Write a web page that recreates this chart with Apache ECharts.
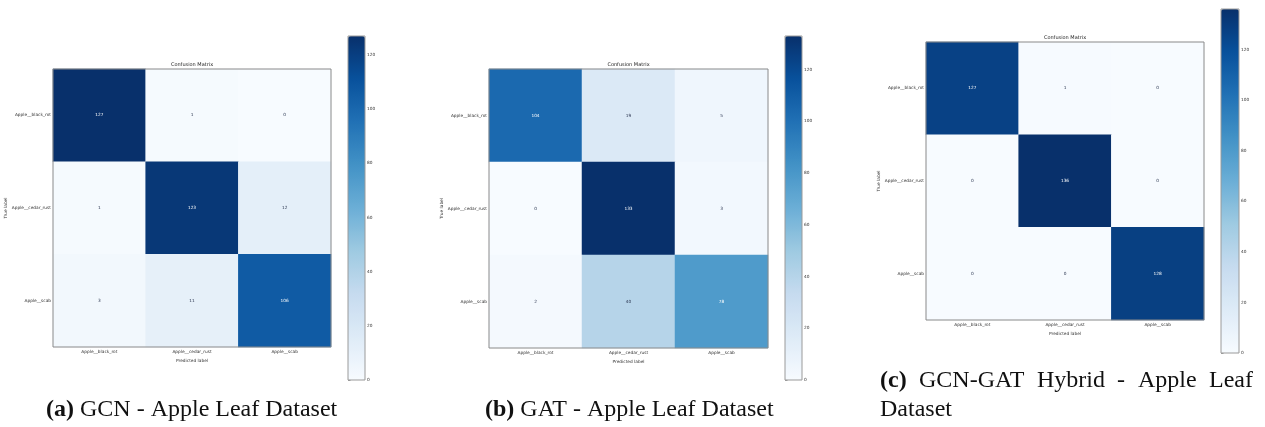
<!DOCTYPE html>
<html>
<head>
<meta charset="utf-8">
<script src="https://cdn.jsdelivr.net/npm/echarts@6/dist/echarts.min.js"></script>
<style>
html,body{margin:0;padding:0;background:#fff;}
#chart{width:1265px;height:427px;}
</style>
</head>
<body>
<div id="chart"></div>
<script>
// ---- data ----
const categories = ['Apple__black_rot', 'Apple__cedar_rust', 'Apple__scab'];
const gcnMatrix = [[127, 1, 0], [1, 123, 12], [3, 11, 106]];
const gatMatrix = [[104, 19, 5], [0, 133, 3], [2, 40, 78]];
const hybridMatrix = [[127, 1, 0], [0, 136, 0], [0, 0, 128]];
const colorbarTicks = [0, 20, 40, 60, 80, 100, 120];
const panelTitle = 'Confusion Matrix';
const xAxisName = 'Predicted label';
const yAxisName = 'True label';
const captionA = ['(a)', 'GCN - Apple Leaf Dataset'];
const captionB = ['(b)', 'GAT - Apple Leaf Dataset'];
const captionCLine1 = ['(c)', 'GCN-GAT', 'Hybrid', '-', 'Apple', 'Leaf'];
const captionCLine2 = 'Dataset';

// ---- style / layout ----
const blues = ['#f7fbff', '#deebf7', '#c6dbef', '#9ecae1', '#6baed6', '#4292c6', '#2171b5', '#08519c', '#08306b'];
const FONT = 'DejaVu Sans';
const panels = [
  { m: gcnMatrix, g: { left: 53, top: 69, size: 278 }, cb: { left: 348, top: 36, w: 17, h: 344 } },
  { m: gatMatrix, g: { left: 489, top: 69, size: 279 }, cb: { left: 785, top: 36, w: 17, h: 344 } },
  { m: hybridMatrix, g: { left: 926, top: 42, size: 278 }, cb: { left: 1221, top: 9, w: 18, h: 344 } }
];

const grid = [], xAxis = [], yAxis = [], series = [], visualMap = [], title = [];
panels.forEach((p, i) => {
  const maxV = Math.max(...p.m.flat());
  grid.push({ left: p.g.left, top: p.g.top, width: p.g.size, height: p.g.size, show: true,
    borderColor: '#8a8a8a', borderWidth: 1, backgroundColor: 'transparent', z: 5 });
  grid.push({ left: p.cb.left, top: p.cb.top, width: p.cb.w, height: p.cb.h, show: true,
    borderColor: '#9a9a9a', borderWidth: 1, backgroundColor: 'transparent', z: 5 });
  xAxis.push({ type: 'category', data: categories, gridIndex: 2 * i, position: 'bottom',
    axisLine: { show: false }, splitLine: { show: false },
    axisTick: { alignWithLabel: true, length: 2.5, lineStyle: { color: '#555', width: 0.6 } },
    axisLabel: { fontSize: 4.3, fontFamily: FONT, color: '#333', margin: 3 },
    name: xAxisName, nameLocation: 'middle', nameGap: 10,
    nameTextStyle: { fontSize: 4.3, fontFamily: FONT, color: '#333' } });
  xAxis.push({ type: 'value', gridIndex: 2 * i + 1, show: false, min: 0, max: 1 });
  yAxis.push({ type: 'category', data: categories, gridIndex: 2 * i, inverse: true,
    axisLine: { show: false }, splitLine: { show: false },
    axisTick: { alignWithLabel: true, length: 2.5, lineStyle: { color: '#555', width: 0.6 } },
    axisLabel: { fontSize: 4.3, fontFamily: FONT, color: '#333', margin: 2 },
    name: yAxisName, nameLocation: 'middle', nameGap: 42, nameRotate: 90,
    nameTextStyle: { fontSize: 4.3, fontFamily: FONT, color: '#333' } });
  yAxis.push({ type: 'value', gridIndex: 2 * i + 1, position: 'right', min: 0, max: maxV,
    axisLine: { show: false }, splitLine: { show: false },
    axisTick: { show: true, length: 2.5, customValues: colorbarTicks, lineStyle: { color: '#555', width: 0.6 } },
    axisLabel: { fontSize: 4.3, fontFamily: FONT, color: '#333', margin: 2, customValues: colorbarTicks } });
  const data = [];
  p.m.forEach((row, r) => row.forEach((v, c) => {
    data.push({ value: [c, r, v], label: { color: v > maxV / 2 ? '#ffffff' : '#2a3550' } });
  }));
  series.push({ type: 'heatmap', xAxisIndex: 2 * i, yAxisIndex: 2 * i, data: data,
    label: { show: true, fontSize: 4.3, fontFamily: FONT }, emphasis: { disabled: true }, itemStyle: { borderWidth: 0 } });
  visualMap.push({ type: 'continuous', seriesIndex: i, min: 0, max: maxV, calculable: false,
    inRange: { color: blues }, left: p.cb.left, top: p.cb.top, itemWidth: p.cb.w, itemHeight: p.cb.h,
    padding: 0, text: null, showLabel: false, z: 2 });
  title.push({ text: panelTitle, left: p.g.left + p.g.size / 2, top: p.g.top - 7, textAlign: 'center',
    padding: 0, textStyle: { fontSize: 5, fontWeight: 'normal', fontFamily: FONT, color: '#222' } });
});

// ---- captions ----
const CAP_SIZE = 24;
const capStyle = { fontFamily: 'Liberation Serif', fontSize: CAP_SIZE, fill: '#111',
  rich: { b: { fontFamily: 'Liberation Serif', fontSize: CAP_SIZE, fontWeight: 'bold', fill: '#111' } } };
const mctx = document.createElement('canvas').getContext('2d');
function wordWidth(w, bold) {
  mctx.font = (bold ? 'bold ' : '') + CAP_SIZE + 'px "Liberation Serif"';
  return mctx.measureText(w).width;
}
const graphic = [
  { type: 'text', left: 46, top: 398, style: Object.assign({ text: '{b|' + captionA[0] + '} ' + captionA[1] }, capStyle) },
  { type: 'text', left: 485, top: 398, style: Object.assign({ text: '{b|' + captionB[0] + '} ' + captionB[1] }, capStyle) },
  { type: 'text', left: 880, top: 398, style: Object.assign({ text: captionCLine2 }, capStyle) }
];
// justified first line of caption (c)
const lineLeft = 880, lineRight = 1253;
const widths = captionCLine1.map((w, k) => wordWidth(w, k === 0));
const gap = (lineRight - lineLeft - widths.reduce((a, b) => a + b, 0)) / (captionCLine1.length - 1);
let xpos = lineLeft;
captionCLine1.forEach((w, k) => {
  graphic.push({ type: 'text', left: Math.round(xpos), top: 369,
    style: Object.assign({ text: k === 0 ? '{b|' + w + '}' : w }, capStyle) });
  xpos += widths[k] + gap;
});

const chart = echarts.init(document.getElementById('chart'), null, { renderer: 'canvas' });
chart.setOption({
  animation: false,
  backgroundColor: '#ffffff',
  title, grid, xAxis, yAxis, series, visualMap, graphic
});
</script>
</body>
</html>
